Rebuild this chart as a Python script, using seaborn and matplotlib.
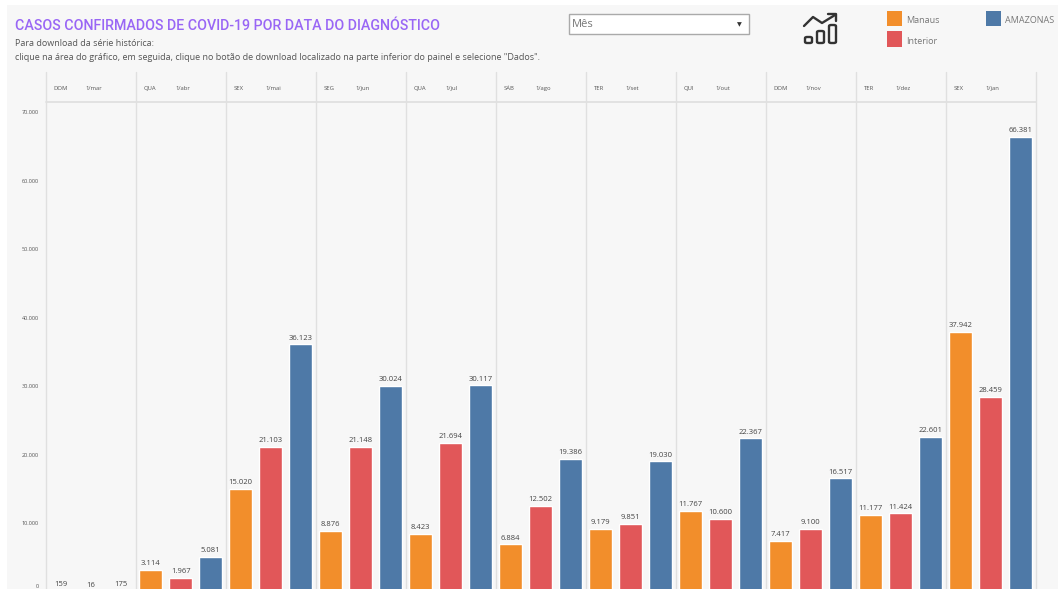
"""Casos confirmados de COVID-19 por data do diagnostico - Amazonas."""

import matplotlib.pyplot as plt
import pandas as pd
import seaborn as sns
from matplotlib.lines import Line2D
from matplotlib.patches import FancyBboxPatch, Rectangle

# --- data -------------------------------------------------------------
MESES = ["mar", "abr", "mai", "jun", "jul", "ago", "set", "out", "nov", "dez", "jan"]
DIAS = ["DOM", "QUA", "SEX", "SEG", "QUA", "SÁB", "TER", "QUI", "DOM", "TER", "SEX"]
MANAUS = [159, 3114, 15020, 8876, 8423, 6884, 9179, 11767, 7417, 11177, 37942]
INTERIOR = [16, 1967, 21103, 21148, 21694, 12502, 9851, 10600, 9100, 11424, 28459]
AMAZONAS = [175, 5081, 36123, 30024, 30117, 19386, 19030, 22367, 16517, 22601, 66381]
SERIES = ["Manaus", "Interior", "AMAZONAS"]
CORES = ["#f28e2b", "#e15759", "#4e79a7"]
YTICKS = [0, 10000, 20000, 30000, 40000, 50000, 60000, 70000]

W, H = 1058, 589
BG = "#f7f7f7"
GRID = "#e0e0e0"
TXT = "#555555"


def fx(px):
    return px / W


def fy(px):
    return 1 - px / H


def milhar(v):
    return f"{int(v):,}".replace(",", ".")


sns.set_theme(style="white")
plt.rcParams["font.family"] = ["Open Sans", "DejaVu Sans"]

df = pd.DataFrame({"mes": MESES, "Manaus": MANAUS, "Interior": INTERIOR, "AMAZONAS": AMAZONAS})
long_df = df.melt(id_vars="mes", value_vars=SERIES, var_name="serie", value_name="casos")

fig = plt.figure(figsize=(W / 100, H / 100), dpi=100, facecolor="white")
fig.add_artist(Rectangle((fx(7), 0), 1 - fx(7), fy(5), transform=fig.transFigure,
                         facecolor=BG, edgecolor="none", zorder=-5))

# axes run slightly past the bottom of the image, the source screenshot is cropped there
ax = fig.add_axes([fx(45.6), fy(591.5), fx(1036 - 46), (592 - 103) / H])
ax.patch.set_alpha(0)
sns.barplot(data=long_df, x="mes", y="casos", hue="serie", order=MESES, hue_order=SERIES,
            palette=CORES, width=1, gap=0.23, legend=False, saturation=1, ax=ax)
ax.set_xlim(-0.5, len(MESES) - 0.5)
ax.set_ylim(0, 71460)
ax.set_xlabel("")
ax.set_ylabel("")
ax.set_xticks([])
ax.set_yticks(YTICKS)
ax.set_yticklabels([""] + [milhar(v) for v in YTICKS[1:]], fontsize=4.0, color=TXT)
ax.tick_params(axis="y", length=0, pad=5)
# the zero label would fall off the cropped bottom edge, so it sits a little higher
ax.annotate(milhar(YTICKS[0]), xy=(0, YTICKS[0]), xycoords=ax.get_yaxis_transform(),
            xytext=(-5, 3.6), textcoords="offset points", fontsize=4.0, color=TXT,
            ha="right", va="center", annotation_clip=False)
sns.despine(ax=ax, left=True, right=True, top=True, bottom=True)

for cont in ax.containers:
    ax.bar_label(cont, labels=[milhar(b.get_height()) for b in cont], fontsize=5.5,
                 color="#444444", padding=2)

# month dividers and header strip
header = 31 / 489
for i in range(len(MESES) + 1):
    ax.axvline(i - 0.5, ymin=0, ymax=1 + header, color=GRID, lw=1.0, clip_on=False)
ax.axhline(ax.get_ylim()[1], color=GRID, lw=1.3, clip_on=False)

trans = ax.get_xaxis_transform()
for i, (dia, mes) in enumerate(zip(DIAS, MESES)):
    ax.text(i - 0.5 + 8 / 90, 1 + 13 / 489, dia, transform=trans, fontsize=4.2, color=TXT, va="baseline")
    ax.text(i - 0.5 + 40 / 90, 1 + 13 / 489, f"1/{mes}", transform=trans, fontsize=4.2, color=TXT, va="baseline")

# title block
fig.text(fx(15), fy(26), "CASOS CONFIRMADOS DE COVID-19 POR DATA DO DIAGNÓSTICO",
         fontsize=10.3, color="#9966f5", va="center", family=["Roboto", "DejaVu Sans"], weight="medium")
fig.text(fx(15), fy(44), "Para download da série histórica:", fontsize=6.5, color="#555555", va="center")
fig.text(fx(15), fy(58), 'clique na área do gráfico, em seguida, clique no botão de download localizado '
         'na parte inferior do painel e selecione "Dados".', fontsize=6.5, color="#555555", va="center")

# month selector
fig.add_artist(Rectangle((fx(569), fy(34)), fx(180), 20 / H, transform=fig.transFigure,
                         facecolor="white", edgecolor="#aaaaaa", lw=1))
fig.text(fx(572), fy(24.5), "Mês", fontsize=8, color="#777777", va="center")
fig.text(fx(739), fy(24.5), "▼", fontsize=4.5, color="#333333", va="center", ha="center",
         family="DejaVu Sans")

# chart icon
for x0, x1, y0 in [(805, 812, 37), (817, 824, 31), (829, 836, 25)]:
    fig.add_artist(FancyBboxPatch((fx(x0), fy(43)), fx(x1 - x0), (43 - y0) / H, transform=fig.transFigure,
                                  boxstyle="round,pad=0,rounding_size=0.002", facecolor="none",
                                  edgecolor="#333333", lw=1.7))
fig.add_artist(Line2D([fx(804), fx(813), fx(822), fx(835)], [fy(26), fy(17), fy(23), fy(15)],
                      transform=fig.transFigure, color="#333333", lw=1.7))
fig.add_artist(Line2D([fx(828), fx(836), fx(836)], [fy(14), fy(14), fy(21)],
                      transform=fig.transFigure, color="#333333", lw=1.7))

# legend
for nome, cor, x, y in [("Manaus", CORES[0], 887, 11), ("Interior", CORES[1], 887, 31.5),
                        ("AMAZONAS", CORES[2], 986, 11)]:
    fig.add_artist(Rectangle((fx(x), fy(y + 15)), fx(15), 15 / H, transform=fig.transFigure,
                             facecolor=cor, edgecolor="none"))
    fig.text(fx(x + 19), fy(y + 9.5), nome, fontsize=6.5, color="#777777", va="center")

fig.savefig("out.png", dpi=100, facecolor=fig.get_facecolor())
